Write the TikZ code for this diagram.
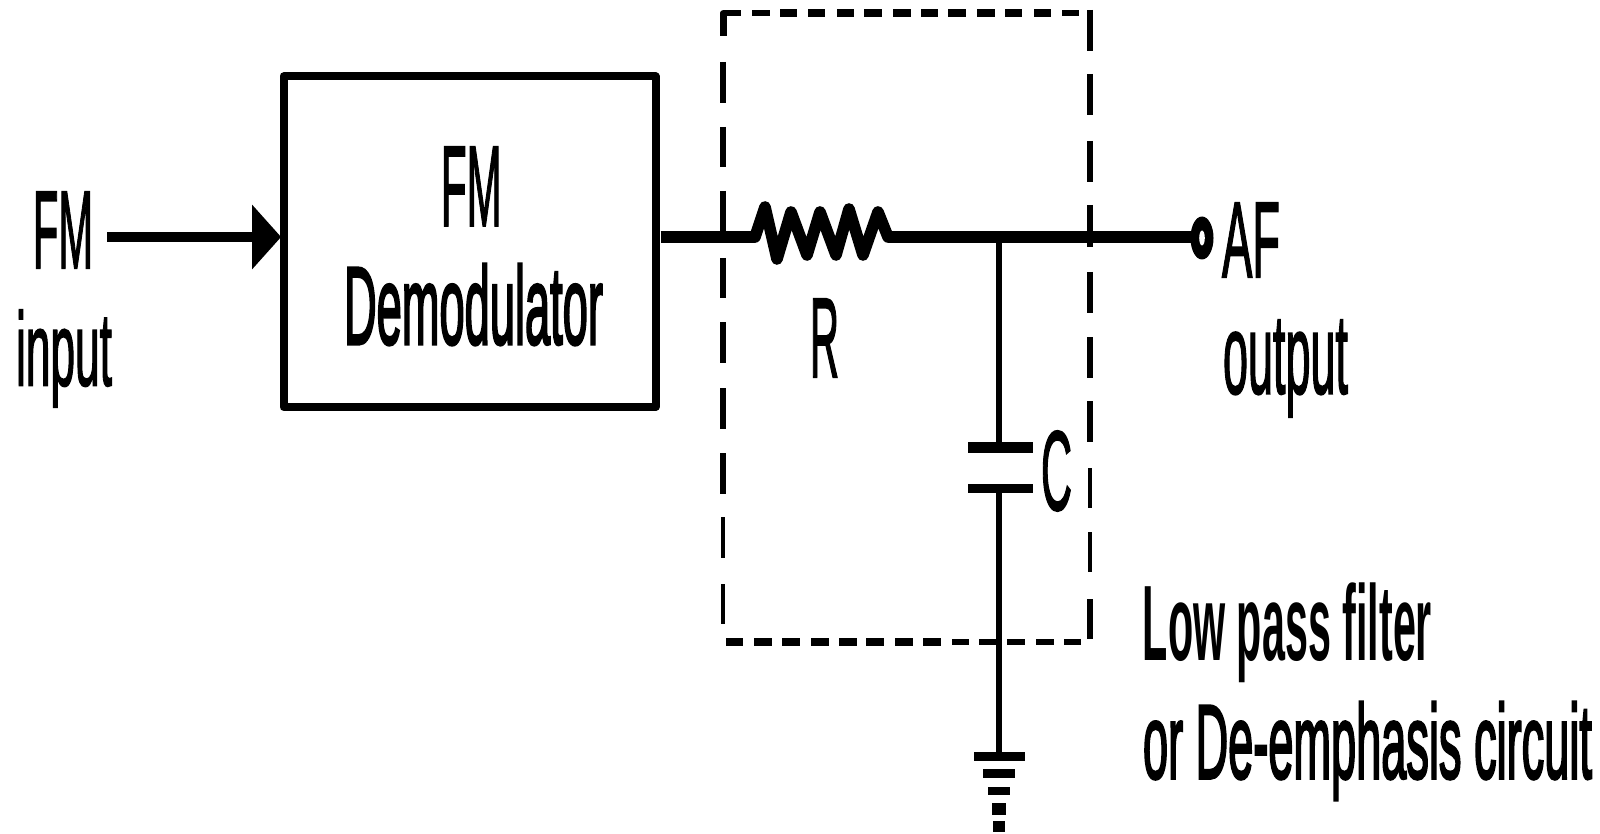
\documentclass[tikz,border=0pt]{standalone}
\usepackage{fontspec}
\usepackage{graphicx}
\setmainfont{Liberation Sans}
\newfontfamily\semib[FakeBold=2]{Liberation Sans}
\newfontfamily\midb[FakeBold=3]{Liberation Sans}
\usetikzlibrary{arrows.meta,shapes.geometric}
\newdimen\pxu \pxu=0.5pt
\newcommand{\fitlabel}[3]{\resizebox*{#1\pxu}{#2\pxu}{#3}}
\tikzset{
  lbl/.style={inner sep=0pt,outer sep=0pt,anchor=center,text=black},
  wire/.style={line width=5.8pt,line cap=butt,line join=round},
  inwire/.style={line width=5pt,line cap=butt},
  leadwire/.style={line width=2.6pt,line cap=butt},
  bar/.style={fill=black,inner sep=0pt,outer sep=0pt,draw=none,rectangle},
  dashA/.style={line width=3pt,line cap=butt},
  dashB/.style={line width=2pt,line cap=butt},
  dashC/.style={line width=4pt,line cap=butt},
}
\begin{document}
\begin{tikzpicture}[x=0.5pt,y=-0.5pt]
\useasboundingbox (0,0) rectangle (1600,834);

% block
\node[draw=black,line width=4pt,line join=round,rectangle,inner sep=0pt,outer sep=2pt,
      minimum width=186pt,minimum height=165.25pt] (demod) at (469.5,241.75) {};
\node[lbl] (fmb) at (471.3,186.3) {\fitlabel{60.7}{78.7}{\semib FM}};
\node[lbl] (demodtxt) at (473.5,304.5) {\fitlabel{259}{81}{\midb Demodulator}};

% input
\node[lbl] (fmin) at (63,230) {\fitlabel{60}{76}{\semib FM}};
\node[lbl] (inp) at (64,358.5) {\fitlabel{96}{97}{\semib input}};
\coordinate (inStart) at (107,237);
\draw[inwire,shorten >=-0.8pt,-{Triangle[length=14.5pt,width=31.5pt,sep=0pt]}] (inStart) -- (demod.west |- inStart);

% output wire, resistor
\coordinate (r0) at (755,237);
\coordinate (r1) at (888,237);
\coordinate (j) at (999,237);
\node[ellipse,fill=black,inner sep=0pt,outer sep=0pt,minimum width=11.5pt,minimum height=21.5pt] (term) at (1202,238) {};
\node[ellipse,fill=white,inner sep=0pt,outer sep=0pt,minimum width=2.8pt,minimum height=7.5pt] (termhole) at (term) {};
\draw[wire] (660.5,237) -- (r0);
\draw[line width=5.8pt,line join=round,line cap=round]
  (r0) -- (765,207) -- (777,259) -- (791,212) -- (807,255) -- (820,212) -- (836,255) -- (849,209) -- (863,255) -- (878,212) -- (r1);
\draw[wire] (r1) -- (j) -- (term.west |- j);
\node[lbl] (rlab) at (824.5,338) {\fitlabel{29}{78}{\semib R}};
\node[lbl] (af) at (1251,240) {\fitlabel{58}{74}{\semib AF}};
\node[lbl] (outp) at (1285.5,368.5) {\fitlabel{125}{97}{\semib output}};

% capacitor
\node[bar,minimum width=32.5pt,minimum height=5.8pt] (capT) at (1000.5,447.5) {};
\node[bar,minimum width=32.5pt,minimum height=4.4pt] (capB) at (1000.5,488.3) {};
\node[lbl] (clab) at (1056.5,471) {\fitlabel{31}{80}{\semib C}};

% ground
\node[bar,minimum width=25.5pt,minimum height=4.2pt] (g1) at (999.5,756.5) {};
\node[bar,minimum width=16pt,minimum height=4.2pt] (g2) at (999,773.5) {};
\node[bar,minimum width=11pt,minimum height=4pt] (g3) at (999,791) {};
\node[bar,minimum width=7pt,minimum height=6pt] (g4) at (999,809) {};
\node[bar,minimum width=6pt,minimum height=5.5pt] (g5) at (999,826.5) {};
\draw[leadwire] (j) -- (j |- capT.north);
\draw[leadwire] (j |- capB.south) -- (j |- g1.north);

% dashed filter box
\draw[line width=3.2pt,line join=round] (723.3,36) -- (723.3,13) -- (741,13);
\draw[dashA] (752,13) -- (770,13);
\foreach \a/\b in {780/797,808/825,837/854,864/882,893/911,921/938,948/966,977/995,1005/1022,1034/1051}
  \draw[dashC] (\a,13) -- (\b,13);
\draw[dashA] (1062,13) -- (1079,13);
\foreach \a/\b in {62/103,127/167,191/232,258/298,322/363,388/429,453/494}
  \draw[dashA] (723.3,\a) -- (723.3,\b);
\foreach \a/\b in {517/558,584/624}
  \draw[dashB] (723.3,\a) -- (723.3,\b);
\foreach \a/\b in {10/51,74/115,141/182,205/247,272/313,337/378,401/442,599/639}
  \draw[dashA] (1090,\a) -- (1090,\b);
\foreach \a/\b in {468/508,532/572}
  \draw[dashB] (1090,\a) -- (1090,\b);
\foreach \a/\b in {726/743,754/772,782/800,811/829,839/857,866/884,895/913,923/941}
  \draw[dashC] (\a,642) -- (\b,642);
\foreach \a/\b in {952/969,979/997,1007/1025,1036/1054,1064/1081}
  \draw[dashA] (\a,642) -- (\b,642);

% caption
\node[lbl] (lpf) at (1287.5,633) {\fitlabel{289}{100}{\textbf{Low pass filter}}};
\node[lbl] (deem) at (1367.5,751) {\fitlabel{449}{98}{\midb or De-emphasis circuit}};
\end{tikzpicture}
\end{document}
